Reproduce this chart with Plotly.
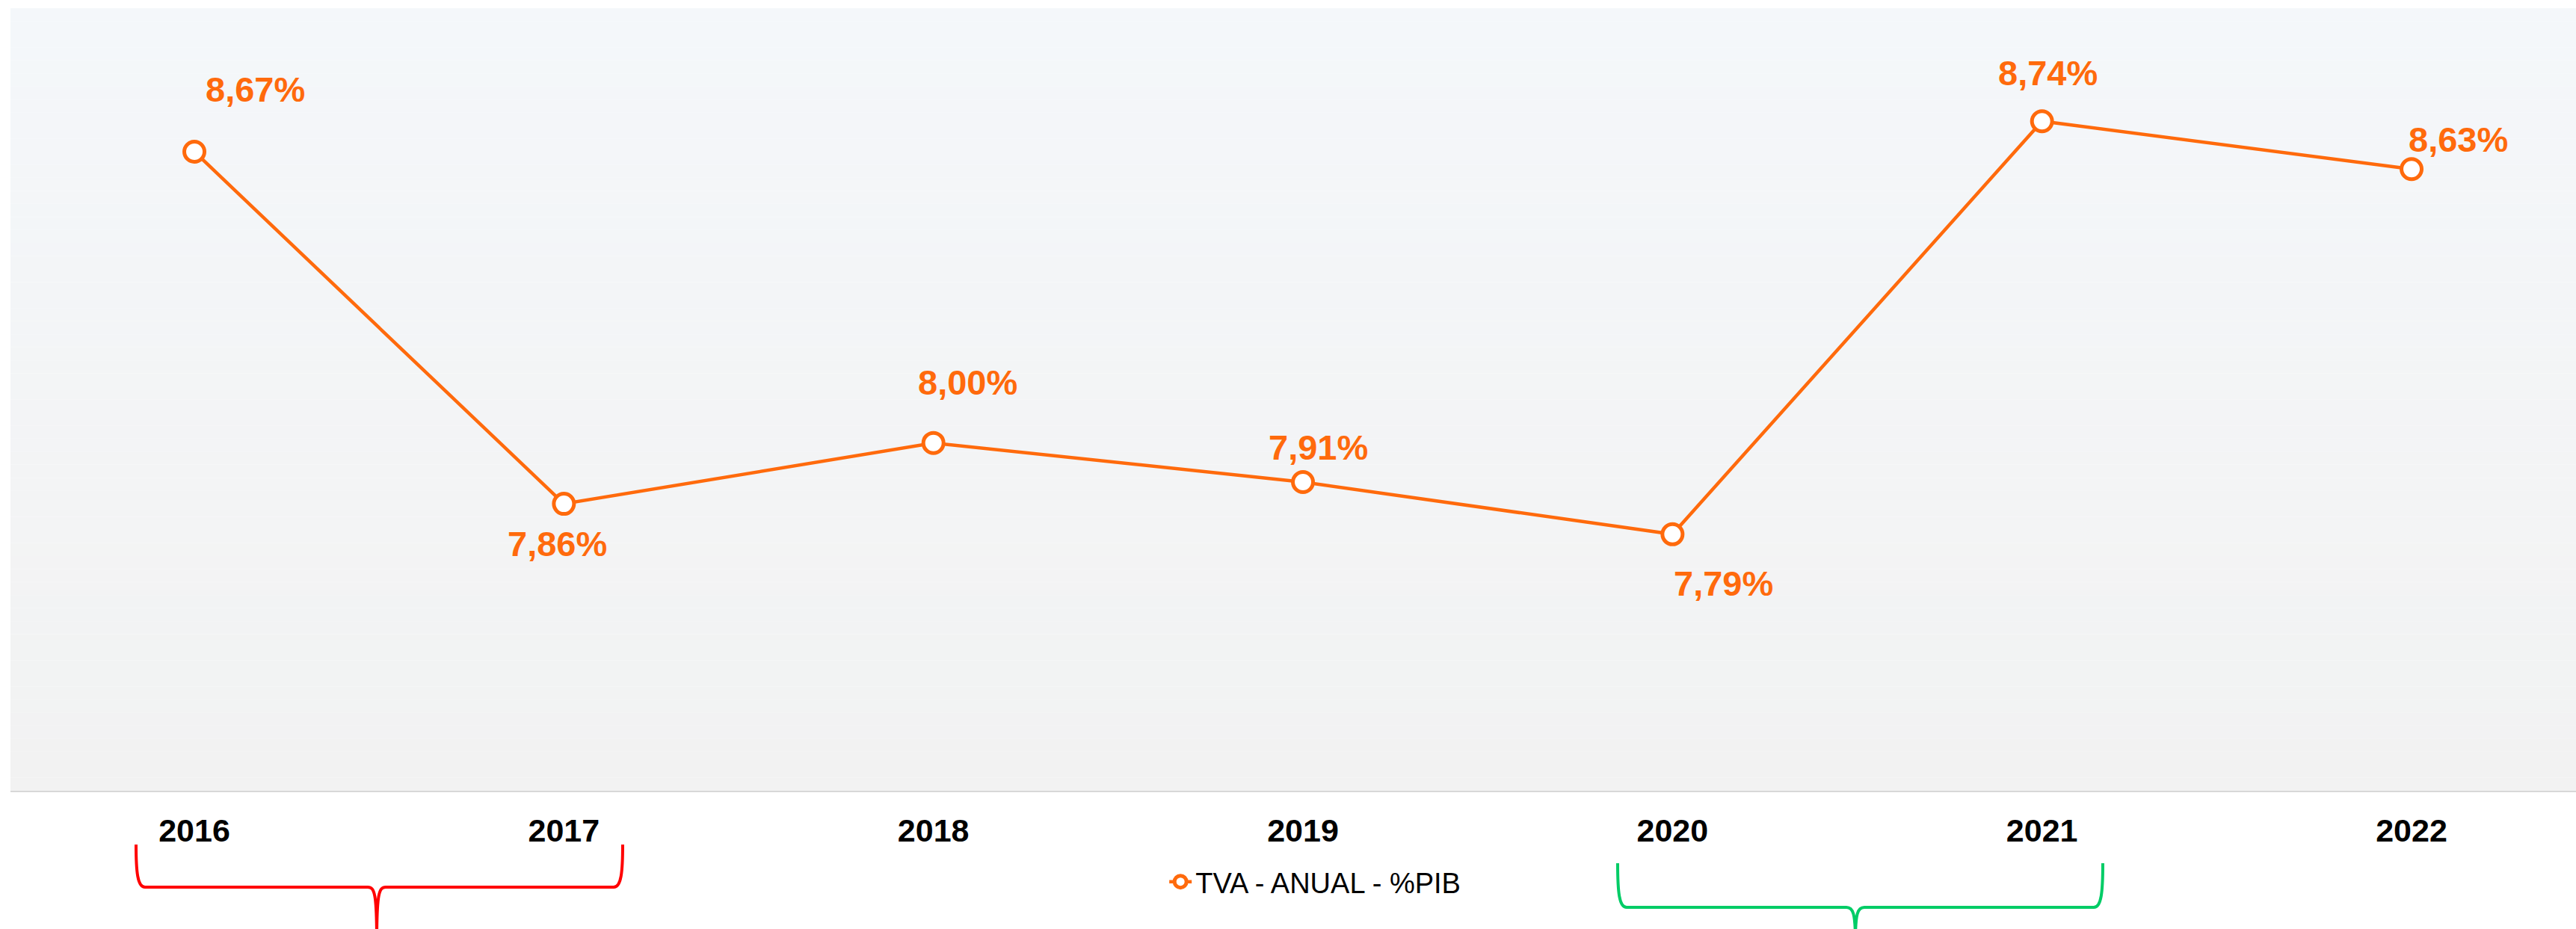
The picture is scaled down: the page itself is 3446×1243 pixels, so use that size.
import plotly.graph_objects as go

# ---- data ----
years = ["2016", "2017", "2018", "2019", "2020", "2021", "2022"]
values = [8.67, 7.86, 8.00, 7.91, 7.79, 8.74, 8.63]
series_name = "TVA - ANUAL - %PIB"

# ---- style ----
W, H = 3446, 1243
ML, MR, MT, MB = 14, 0, 11, 185
PW, PH = W - ML - MR, H - MT - MB
ORANGE = "#FF6A0C"
FONT = "Liberation Sans, Arial, sans-serif"
label_shifts = [(81, 83), (-9, -53), (46, 81), (20, 47), (68, -66), (8, 65), (62, 40)]

def px2paper(px, py):
    return (px - ML) / PW, (H - MB - py) / PH

fig = go.Figure()
fig.add_trace(go.Scatter(
    x=years, y=values, mode="lines+markers", name=series_name,
    line=dict(color=ORANGE, width=4.5),
    marker=dict(symbol="circle", size=27, color="white",
                line=dict(color=ORANGE, width=5)),
    hoverinfo="skip",
))

# data labels (x given as category index)
for i, (v, (dx, dy)) in enumerate(zip(values, label_shifts)):
    fig.add_annotation(
        x=i, y=v, xref="x", yref="y",
        text="<b>" + f"{v:.2f}%".replace(".", ",") + "</b>", showarrow=False,
        xshift=dx, yshift=dy,
        font=dict(family=FONT, size=47, color=ORANGE),
    )

# gradient plot background
shapes = []
N = 60
top = (244, 247, 250)
bot = (242, 242, 242)
for i in range(N):
    t = i / (N - 1)
    c = tuple(round(top[k] + (bot[k] - top[k]) * t) for k in range(3))
    shapes.append(dict(type="rect", xref="paper", yref="paper",
                       x0=0, x1=1, y0=1 - (i + 1) / N, y1=1 - i / N,
                       fillcolor=f"rgb{c}", line=dict(width=0), layer="below"))

# braces below the axis
def brace(xl, xr, xm, ytop, yh, color):
    def P(px, py):
        a, b = px2paper(px, py)
        return f"{a:.6f},{b:.6f}"
    ybot = 1260
    r = 12
    path = (f"M {P(xl, ytop)} C {P(xl, yh - 20)} {P(xl + 2, yh)} {P(xl + r, yh)} "
            f"L {P(xm - r, yh)} C {P(xm - 3, yh)} {P(xm, yh + 8)} {P(xm, ybot)} "
            f"M {P(xr, ytop)} C {P(xr, yh - 20)} {P(xr - 2, yh)} {P(xr - r, yh)} "
            f"L {P(xm + r, yh)} C {P(xm + 3, yh)} {P(xm, yh + 8)} {P(xm, ybot)}")
    return dict(type="path", xref="paper", yref="paper", path=path,
                line=dict(color=color, width=4), layer="above")

shapes.append(brace(182, 833, 504, 1130, 1187, "#FF0000"))
shapes.append(brace(2164, 2813, 2482, 1155, 1214, "#00CC66"))

fig.update_layout(
    width=W, height=H,
    margin=dict(l=ML, r=MR, t=MT, b=MB, pad=0),
    paper_bgcolor="white", plot_bgcolor="rgba(0,0,0,0)",
    shapes=shapes,
    showlegend=True,
    legend=dict(orientation="h", x=0.5085, xanchor="center", y=-0.1165,
                yanchor="middle", font=dict(family=FONT, size=38, color="black"),
                bgcolor="rgba(0,0,0,0)"),
    xaxis=dict(type="category", range=[-0.4977, 6.445], showgrid=False,
               zeroline=False, showline=True, linecolor="#D8D8D8", linewidth=2,
               ticks="outside", ticklen=14, tickcolor="rgba(0,0,0,0)",
               tickfont=dict(family=FONT, size=43, color="black", weight="bold")),
    yaxis=dict(range=[7.2, 9.0], showgrid=False, zeroline=False,
               showticklabels=False, showline=False),
)

fig.write_html("out.html", config={"displayModeBar": False},
               post_script="document.body.style.margin='0';")
